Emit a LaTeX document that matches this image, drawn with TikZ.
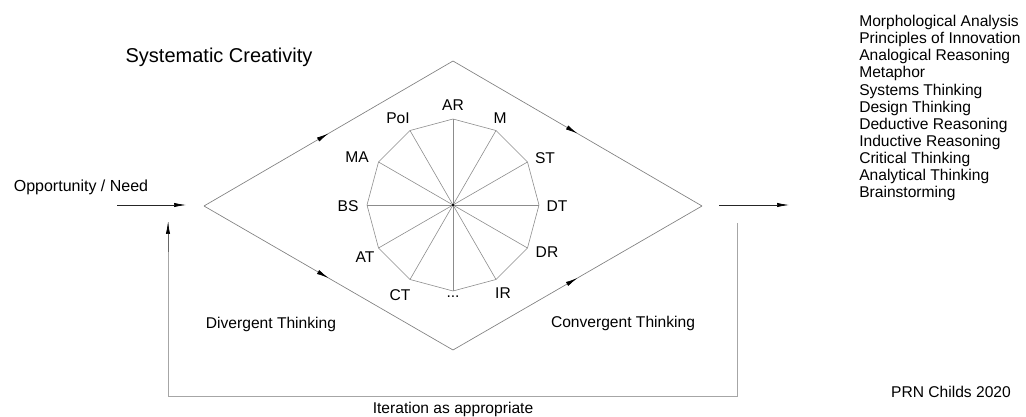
\documentclass[tikz,border=0pt]{standalone}
\usepackage{fontspec}
\setmainfont{Liberation Sans}
\usetikzlibrary{arrows.meta,decorations.markings,calc}
\begin{document}
\begin{tikzpicture}[x=0.75pt,y=-0.75pt,
  tip/.style={-{Latex[length=9pt,width=3.2pt,black]}},
  dline/.style={draw=black!50,line width=0.5pt},
  midarrow/.style={postaction={decorate},decoration={markings,
      mark=at position 0.5 with {\arrow{Latex[length=9pt,width=3.4pt,black]}}}},
  lbl/.style={font=\fontsize{11.7pt}{13pt}\selectfont,inner sep=0pt},
  poly/.style={draw=black!45,line width=0.45pt},
  fb/.style={draw=black!35,line width=0.7pt}]
\useasboundingbox (0,0) rectangle (1026,417);
% diamond vertices
\coordinate (L) at (204,206);
\coordinate (T) at (453,61);
\coordinate (R) at (702,206);
\coordinate (B) at (453,350);
\coordinate (C) at (453,205);
% diamond edges
\draw[dline,midarrow] (L) -- (T);
\draw[dline,midarrow] (T) -- (R);
\draw[dline,midarrow] (L) -- (B);
\draw[dline,midarrow] (B) -- (R);
% dodecagon
\begin{scope}[shift={(C)}]
  \draw[poly] (0:86) \foreach \a in {30,60,...,330} { -- (\a:86) } -- cycle;
  \foreach \a in {0,30,...,330} \draw[poly] (0,0) -- (\a:86);
  \fill (0,0) circle (1.3);
\end{scope}
% labels round polygon
\node[lbl] (lAR) at (453,105) {AR};
\node[lbl] (lM) at (500,118) {M};
\node[lbl] (lST) at (545,158) {ST};
\node[lbl] (lDT) at (557,206) {DT};
\node[lbl] (lDR) at (547,252) {DR};
\node[lbl] (lIR) at (503,293) {IR};
\node[lbl] (lDots) at (453,297) {...};
\node[lbl] (lCT) at (400,295) {CT};
\node[lbl] (lAT) at (365,257) {AT};
\node[lbl] (lBS) at (348,206) {BS};
\node[lbl] (lMA) at (357,157) {MA};
\node[lbl] (lPoI) at (398,118) {PoI};
% input / output arrows
\coordinate (in1) at (117,205);
\coordinate (in2) at (186,205);
\coordinate (out1) at (719,205);
\coordinate (out2) at (789,205);
\draw[tip,draw=black!85,line width=0.5pt] (in1) -- (in2);
\draw[tip,draw=black!85,line width=0.5pt] (out1) -- (out2);
% iteration loop
\coordinate (f1) at (737,223);
\coordinate (f2) at (737,396);
\coordinate (f3) at (168,396);
\coordinate (f4) at (168,222);
\draw[fb] (f1) -- (f2) -- (f3) -- (f4);
\draw[tip,draw=black!60,line width=0.5pt] ($(f4)+(0,30)$) -- (f4);
% texts
\node[inner sep=0pt,font=\fontsize{15pt}{17pt}\selectfont] (title) at (219,57) {Systematic Creativity};
\node[inner sep=0pt,font=\fontsize{12pt}{14pt}\selectfont] (opp) at (81,187) {Opportunity / Need};
\node[lbl] (div) at (271,324) {Divergent Thinking};
\node[lbl] (conv) at (623,323) {Convergent Thinking};
\node[lbl] (iter) at (453,409) {Iteration as appropriate};
\node[lbl] (prn) at (951,392) {PRN Childs 2020};
\node[lbl,anchor=north west,align=left,font=\fontsize{11.7pt}{12.85pt}\selectfont] (list) at (859,15) {Morphological Analysis\\Principles of Innovation\\Analogical Reasoning\\Metaphor\\Systems Thinking\\Design Thinking\\Deductive Reasoning\\Inductive Reasoning\\Critical Thinking\\Analytical Thinking\\Brainstorming};
\end{tikzpicture}
\end{document}
